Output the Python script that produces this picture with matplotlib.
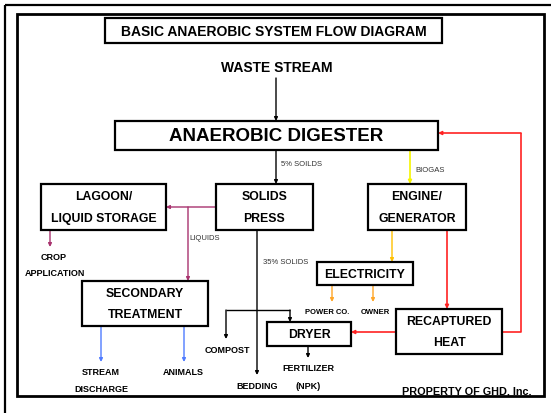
import matplotlib
matplotlib.use("Agg")
import matplotlib.pyplot as plt
from matplotlib.patches import Rectangle, FancyArrowPatch

plt.rcParams['font.family'] = ['Liberation Sans', 'DejaVu Sans']

# ---------------- content ----------------
title = "BASIC ANAEROBIC SYSTEM FLOW DIAGRAM"
source_label = "WASTE STREAM"
main_box_label = "ANAEROBIC DIGESTER"
box_labels = {
    "lagoon": ["LAGOON/", "LIQUID STORAGE"],
    "press": ["SOLIDS", "PRESS"],
    "engine": ["ENGINE/", "GENERATOR"],
    "electricity": ["ELECTRICITY"],
    "secondary": ["SECONDARY", "TREATMENT"],
    "dryer": ["DRYER"],
    "heat": ["RECAPTURED", "HEAT"],
}
outlet_labels = {
    "crop": ["CROP", "APPLICATION"],
    "stream": ["STREAM", "DISCHARGE"],
    "animals": ["ANIMALS"],
    "compost": ["COMPOST"],
    "bedding": ["BEDDING"],
    "fertilizer": ["FERTILIZER", "(NPK)"],
    "power": ["POWER CO."],
    "owner": ["OWNER"],
}
flow_labels = {
    "digest_out": "5% SOILDS",
    "biogas": "BIOGAS",
    "liquids": "LIQUIDS",
    "solids": "35% SOLIDS",
}
footer = "PROPERTY OF GHD, Inc."

# ---------------- layout (pixel coordinates) ----------------
W, H = 551, 414
fig = plt.figure(figsize=(W / 100, H / 100), dpi=100)
ax = fig.add_axes([0, 0, 1, 1])
ax.set_xlim(0, W)
ax.set_ylim(H, 0)
ax.axis('off')

# frames
ax.add_patch(Rectangle((5, 6), 600, 450, fill=False, lw=1.6, ec='black'))
ax.add_patch(Rectangle((17, 15), 527, 382, fill=False, lw=2.0, ec='black'))

def box(x0, y0, x1, y1, lw=1.6):
    ax.add_patch(Rectangle((x0, y0), x1 - x0, y1 - y0, fill=False, lw=lw, ec='black', zorder=3))

def txt(x, y, s, size, bold=True, ha='center', color='black'):
    ax.text(x, y, s, fontsize=size, fontweight='bold' if bold else 'normal',
            ha=ha, va='center', color=color, zorder=4)

def arrow(p0, p1, color='black', lw=1.0):
    ax.add_patch(FancyArrowPatch(p0, p1, arrowstyle='-|>', mutation_scale=5,
                                 shrinkA=0, shrinkB=0, lw=lw, color=color, zorder=2))

def line(xs, ys, color='black', lw=1.0):
    ax.plot(xs, ys, color=color, lw=lw, solid_capstyle='butt', zorder=2)

BOX_FS = 8.8
SMALL_B = 6.5
# title
box(105, 19, 442, 44)
txt(273.5, 32, title, 10)
txt(277, 68, source_label, 10)

# digester
box(115, 122, 438, 151)
txt(276.5, 137, main_box_label, 13.5)

boxes = {
    "lagoon": (41, 185, 166, 231),
    "press": (216, 185, 313, 231),
    "engine": (368, 185, 466, 231),
    "electricity": (317, 263, 413, 286),
    "secondary": (82, 282, 208, 327),
    "dryer": (267, 323, 351, 347),
    "heat": (396, 310, 502, 355),
}
for k, (x0, y0, x1, y1) in boxes.items():
    box(x0, y0, x1, y1)
    lines_ = box_labels[k]
    cx = (x0 + x1) / 2
    if len(lines_) == 1:
        txt(cx, (y0 + y1) / 2 + 0.5, lines_[0], BOX_FS)
    else:
        h = y1 - y0
        txt(cx, y0 + h * 0.27, lines_[0], BOX_FS)
        txt(cx, y0 + h * 0.74, lines_[1], BOX_FS)

# outlet labels
txt(54, 258, outlet_labels["crop"][0], SMALL_B)
txt(55, 274, outlet_labels["crop"][1], SMALL_B)
txt(101, 373, outlet_labels["stream"][0], SMALL_B)
txt(101, 390, outlet_labels["stream"][1], SMALL_B)
txt(183, 373, outlet_labels["animals"][0], SMALL_B)
txt(227, 351, outlet_labels["compost"][0], SMALL_B)
txt(257, 387, outlet_labels["bedding"][0], SMALL_B)
txt(308, 369, outlet_labels["fertilizer"][0], SMALL_B)
txt(308, 387, outlet_labels["fertilizer"][1], SMALL_B)
txt(327, 313, outlet_labels["power"][0], 5.5)
txt(375, 313, outlet_labels["owner"][0], 5.5)

# flow labels
FL = 5.5
txt(281, 165, flow_labels["digest_out"], FL, bold=False, ha='left', color='#333333')
txt(415, 171, flow_labels["biogas"], FL, bold=False, ha='left', color='#333333')
txt(189, 239, flow_labels["liquids"], FL, bold=False, ha='left', color='#333333')
txt(263, 263, flow_labels["solids"], FL, bold=False, ha='left', color='#333333')

ax.text(532, 392, footer, fontsize=7.8, fontweight='bold', ha='right', va='center', zorder=4)

# colours
PURPLE = '#A8336E'
BLUE = '#4F7BFF'
YELLOW = '#F5F500'
GOLD = '#FFC000'
ORANGE = '#FFA526'
RED = '#FF2222'

# arrows / connectors
arrow((276, 79), (276, 122))
arrow((276, 151), (276, 185))
arrow((410, 152), (410, 185), color=YELLOW, lw=1.2)

arrow((216, 208), (166, 208), color=PURPLE)
arrow((188, 208), (188, 282), color=PURPLE)
arrow((50, 231), (50, 248), color=PURPLE)

arrow((257, 231), (257, 376))
line([226, 290], [311, 311])
arrow((226, 311), (226, 340))
arrow((290, 311), (290, 323))
arrow((308, 347), (308, 359))

arrow((101, 327), (101, 363), color=BLUE)
arrow((184, 327), (184, 363), color=BLUE)

arrow((392, 231), (392, 263), color=GOLD)
arrow((332, 286), (332, 303), color=ORANGE)
arrow((373, 286), (373, 303), color=ORANGE)

arrow((447, 231), (447, 310), color=RED, lw=1.2)
arrow((396, 333), (351, 333), color=RED, lw=1.2)
line([502, 521, 521], [333, 333, 134], color=RED, lw=1.2)
arrow((521, 134), (438, 134), color=RED, lw=1.2)

fig.savefig('out.png', dpi=100)
